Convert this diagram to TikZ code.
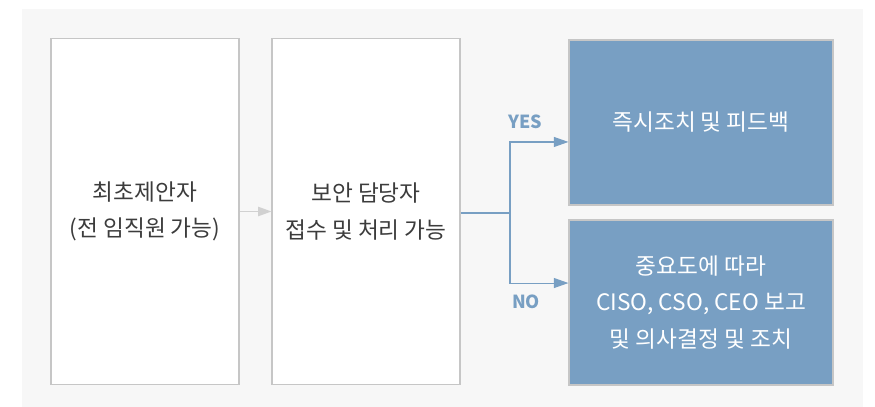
\documentclass[tikz,border=0pt]{standalone}
\usepackage{fontspec}
\setmainfont{Noto Sans CJK KR}
\usepackage{tikz}
\usetikzlibrary{arrows.meta,positioning}
\usepackage{xcolor}
\definecolor{cbg}{HTML}{F7F7F7}
\definecolor{cln}{HTML}{C6C6C6}
\definecolor{cbl}{HTML}{789FC3}
\definecolor{ctx}{HTML}{3C3C3C}

\begin{document}
\begin{tikzpicture}[x=0.75pt,y=-0.75pt,>=Stealth,
    box/.style={rectangle,draw=cln,line width=0.8pt,minimum width=141pt,minimum height=260pt,inner sep=4pt,font=\fontsize{17}{27.5}\selectfont,align=center,text=ctx},
    plain/.style={box,fill=white},
    res/.style={box,fill=cbl,text=white,minimum width=198pt,minimum height=123.75pt},
    flow/.style={draw=cbl,line width=0.8pt,-{Triangle[length=11pt,width=7.5pt]}},
    tag/.style={font=\fontsize{13.5}{16}\selectfont\bfseries,text=cbl},
  ]
  \useasboundingbox (0,0) rectangle (875,407);
  \fill[cbg] (22,9) rectangle (863,407);
  \node[plain] (p)   at (145,211.5) {최초제안자\\(전 임직원 가능)};
  \node[plain] (r)   at (366,211.5) {보안 담당자\\접수 및 처리 가능};
  \node[res]   (yes) at (701,122.5) {즉시조치 및 피드백};
  \node[res]   (no)  at (701,302.5) {중요도에 따라\\CISO, CSO, CEO 보고\\및 의사결정 및 조치};
  \coordinate (split) at (510,213);
  \draw[draw=cln!80!white,line width=0.8pt,-{Triangle[length=10pt,width=7pt,fill=cln!80!white]}] (p) -- (r);
  \draw[draw=cbl,line width=0.8pt] (r.east |- split) -- (split);
  \draw[flow] (split) |- ([yshift=-14.6pt]yes.west);
  \draw[flow] (split) |- ([yshift=14.6pt]no.west);
  \node[tag] (y) at (525,122) {YES};
  \node[tag] (n) at (526,302) {NO};
\end{tikzpicture}
\end{document}
